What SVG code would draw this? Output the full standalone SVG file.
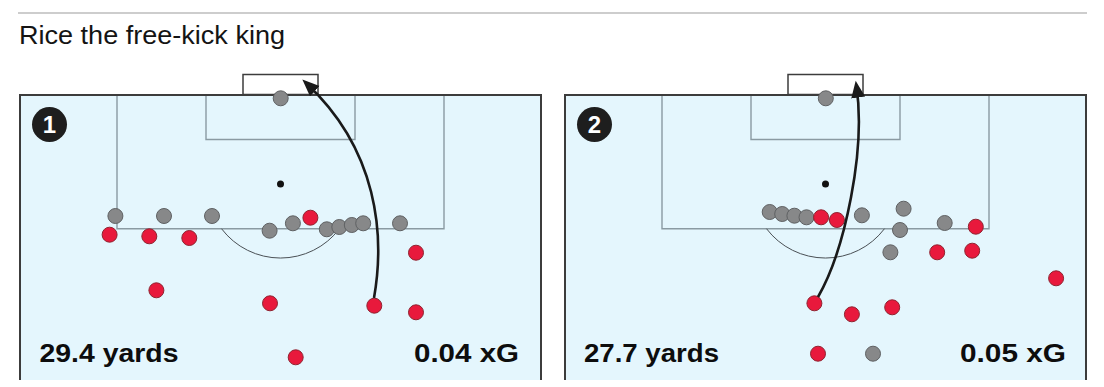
<svg xmlns="http://www.w3.org/2000/svg" width="1104" height="387" viewBox="0 0 1104 387">
<style>
.pitch{fill:#e4f6fd;stroke:none}
.border{fill:none;stroke:#3c3c3c;stroke-width:2}
.box{fill:none;stroke:#8a9aa2;stroke-width:1.4}
.arc{fill:none;stroke:#4a5055;stroke-width:1}
.goal{fill:#fff;stroke:#3c3c3c;stroke-width:1.5}
.spot{fill:#111}
.red{fill:#e8193c;stroke:#8f2330;stroke-width:1}
.grey{fill:#878889;stroke:#5f6163;stroke-width:1}
.badge{fill:#1e1e1e}
.badgetxt{font-family:"Liberation Sans",Arial,sans-serif;font-weight:bold;font-size:24px;fill:#fff;text-anchor:middle}
.title{font-family:"Liberation Sans",Arial,sans-serif;font-size:25px;fill:#141414}
.stat{font-family:"Liberation Sans",Arial,sans-serif;font-weight:bold;font-size:26px;fill:#0d0d0d}
.shot{fill:none;stroke:#1a1a1a;stroke-width:2.6;marker-end:url(#ah)}
</style>
<defs>
<marker id="ah" markerUnits="userSpaceOnUse" markerWidth="18" markerHeight="16" refX="12" refY="7" orient="auto">
<path d="M0,0 L17,7 L0,14 z" fill="#1a1a1a"/>
</marker>
<g id="pitchbase">
<rect class="goal" x="243" y="74.5" width="75" height="20"/>
<rect class="pitch" x="20" y="95" width="521" height="285"/>
<path class="box" d="M117,95 V228.7 H444 V95"/>
<path class="box" d="M206,95 V139.5 H355 V95"/>
<path class="arc" d="M221.5,228.7 A74,74 0 0 0 339.5,228.7"/>
<circle class="spot" cx="280.5" cy="184" r="3.5"/>
<path class="border" d="M20,380 V95 H541 V380"/>
</g>
</defs>
<line x1="18" y1="13" x2="1087" y2="13" stroke="#bdbdbd" stroke-width="1.5"/>
<text class="title" x="19" y="44" textLength="266" lengthAdjust="spacingAndGlyphs">Rice the free-kick king</text>

<g id="panel1">
<use href="#pitchbase"/>
<circle class="badge" cx="49.5" cy="124.5" r="17.5"/>
<text class="badgetxt" x="49.5" y="133">1</text>
<g id="players1">
<circle class="grey" cx="280.7" cy="98.3" r="7.5"/>
<circle class="grey" cx="115.4" cy="216" r="7.5"/>
<circle class="grey" cx="164" cy="216" r="7.5"/>
<circle class="grey" cx="212" cy="216" r="7.5"/>
<circle class="grey" cx="269.6" cy="230.7" r="7.5"/>
<circle class="grey" cx="292.9" cy="223.3" r="7.5"/>
<circle class="red" cx="310.4" cy="217.7" r="7.5"/>
<circle class="grey" cx="326.8" cy="229.3" r="7.5"/>
<circle class="grey" cx="339.3" cy="227" r="7.5"/>
<circle class="grey" cx="351.8" cy="225" r="7.5"/>
<circle class="grey" cx="363.2" cy="223.3" r="7.5"/>
<circle class="grey" cx="400" cy="223.3" r="7.5"/>
<circle class="red" cx="109.6" cy="234.7" r="7.5"/>
<circle class="red" cx="149.3" cy="236.3" r="7.5"/>
<circle class="red" cx="189.3" cy="238" r="7.5"/>
<circle class="red" cx="416" cy="252.7" r="7.5"/>
<circle class="red" cx="156.4" cy="290.3" r="7.5"/>
<circle class="red" cx="270" cy="303.3" r="7.5"/>
<circle class="red" cx="374.3" cy="305.7" r="7.5"/>
<circle class="red" cx="416" cy="312.3" r="7.5"/>
<circle class="red" cx="295.7" cy="357.3" r="7.5"/>
</g>
<text class="stat" x="39.5" y="362" textLength="139" lengthAdjust="spacingAndGlyphs">29.4 yards</text>
<text class="stat" x="414" y="362" textLength="105" lengthAdjust="spacingAndGlyphs">0.04 xG</text>
</g>

<g id="panel2">
<use href="#pitchbase" x="545"/>
<circle class="badge" cx="594.5" cy="124.5" r="17.5"/>
<text class="badgetxt" x="594.5" y="133">2</text>
<g id="players2">
<circle class="grey" cx="825.8" cy="98.3" r="7.5"/>
<circle class="grey" cx="769.7" cy="212" r="7.5"/>
<circle class="grey" cx="782.2" cy="214" r="7.5"/>
<circle class="grey" cx="794.4" cy="215.7" r="7.5"/>
<circle class="grey" cx="806.5" cy="217.3" r="7.5"/>
<circle class="red" cx="821.1" cy="217.3" r="7.5"/>
<circle class="red" cx="836.9" cy="220" r="7.5"/>
<circle class="grey" cx="861.9" cy="215.3" r="7.5"/>
<circle class="grey" cx="903.6" cy="208.7" r="7.5"/>
<circle class="grey" cx="900" cy="230" r="7.5"/>
<circle class="grey" cx="944.7" cy="223" r="7.5"/>
<circle class="grey" cx="890.4" cy="252.3" r="7.5"/>
<circle class="red" cx="975.8" cy="226.7" r="7.5"/>
<circle class="red" cx="937.2" cy="252.3" r="7.5"/>
<circle class="red" cx="972.2" cy="250.7" r="7.5"/>
<circle class="red" cx="1056.1" cy="278.3" r="7.5"/>
<circle class="red" cx="814.4" cy="303.3" r="7.5"/>
<circle class="red" cx="851.9" cy="314.3" r="7.5"/>
<circle class="red" cx="892.2" cy="307.3" r="7.5"/>
<circle class="red" cx="818" cy="353.7" r="7.5"/>
<circle class="grey" cx="873" cy="353.7" r="7.5"/>
</g>
<text class="stat" x="584" y="362" textLength="135" lengthAdjust="spacingAndGlyphs">27.7 yards</text>
<text class="stat" x="960" y="362" textLength="106" lengthAdjust="spacingAndGlyphs">0.05 xG</text>
</g>

<g id="connectors">
<path class="shot" d="M374,298 C385,235 378,150 306,83"/>
<path class="shot" d="M818,297 C845,250 866,150 856.4,85.7"/>
</g>
</svg>
